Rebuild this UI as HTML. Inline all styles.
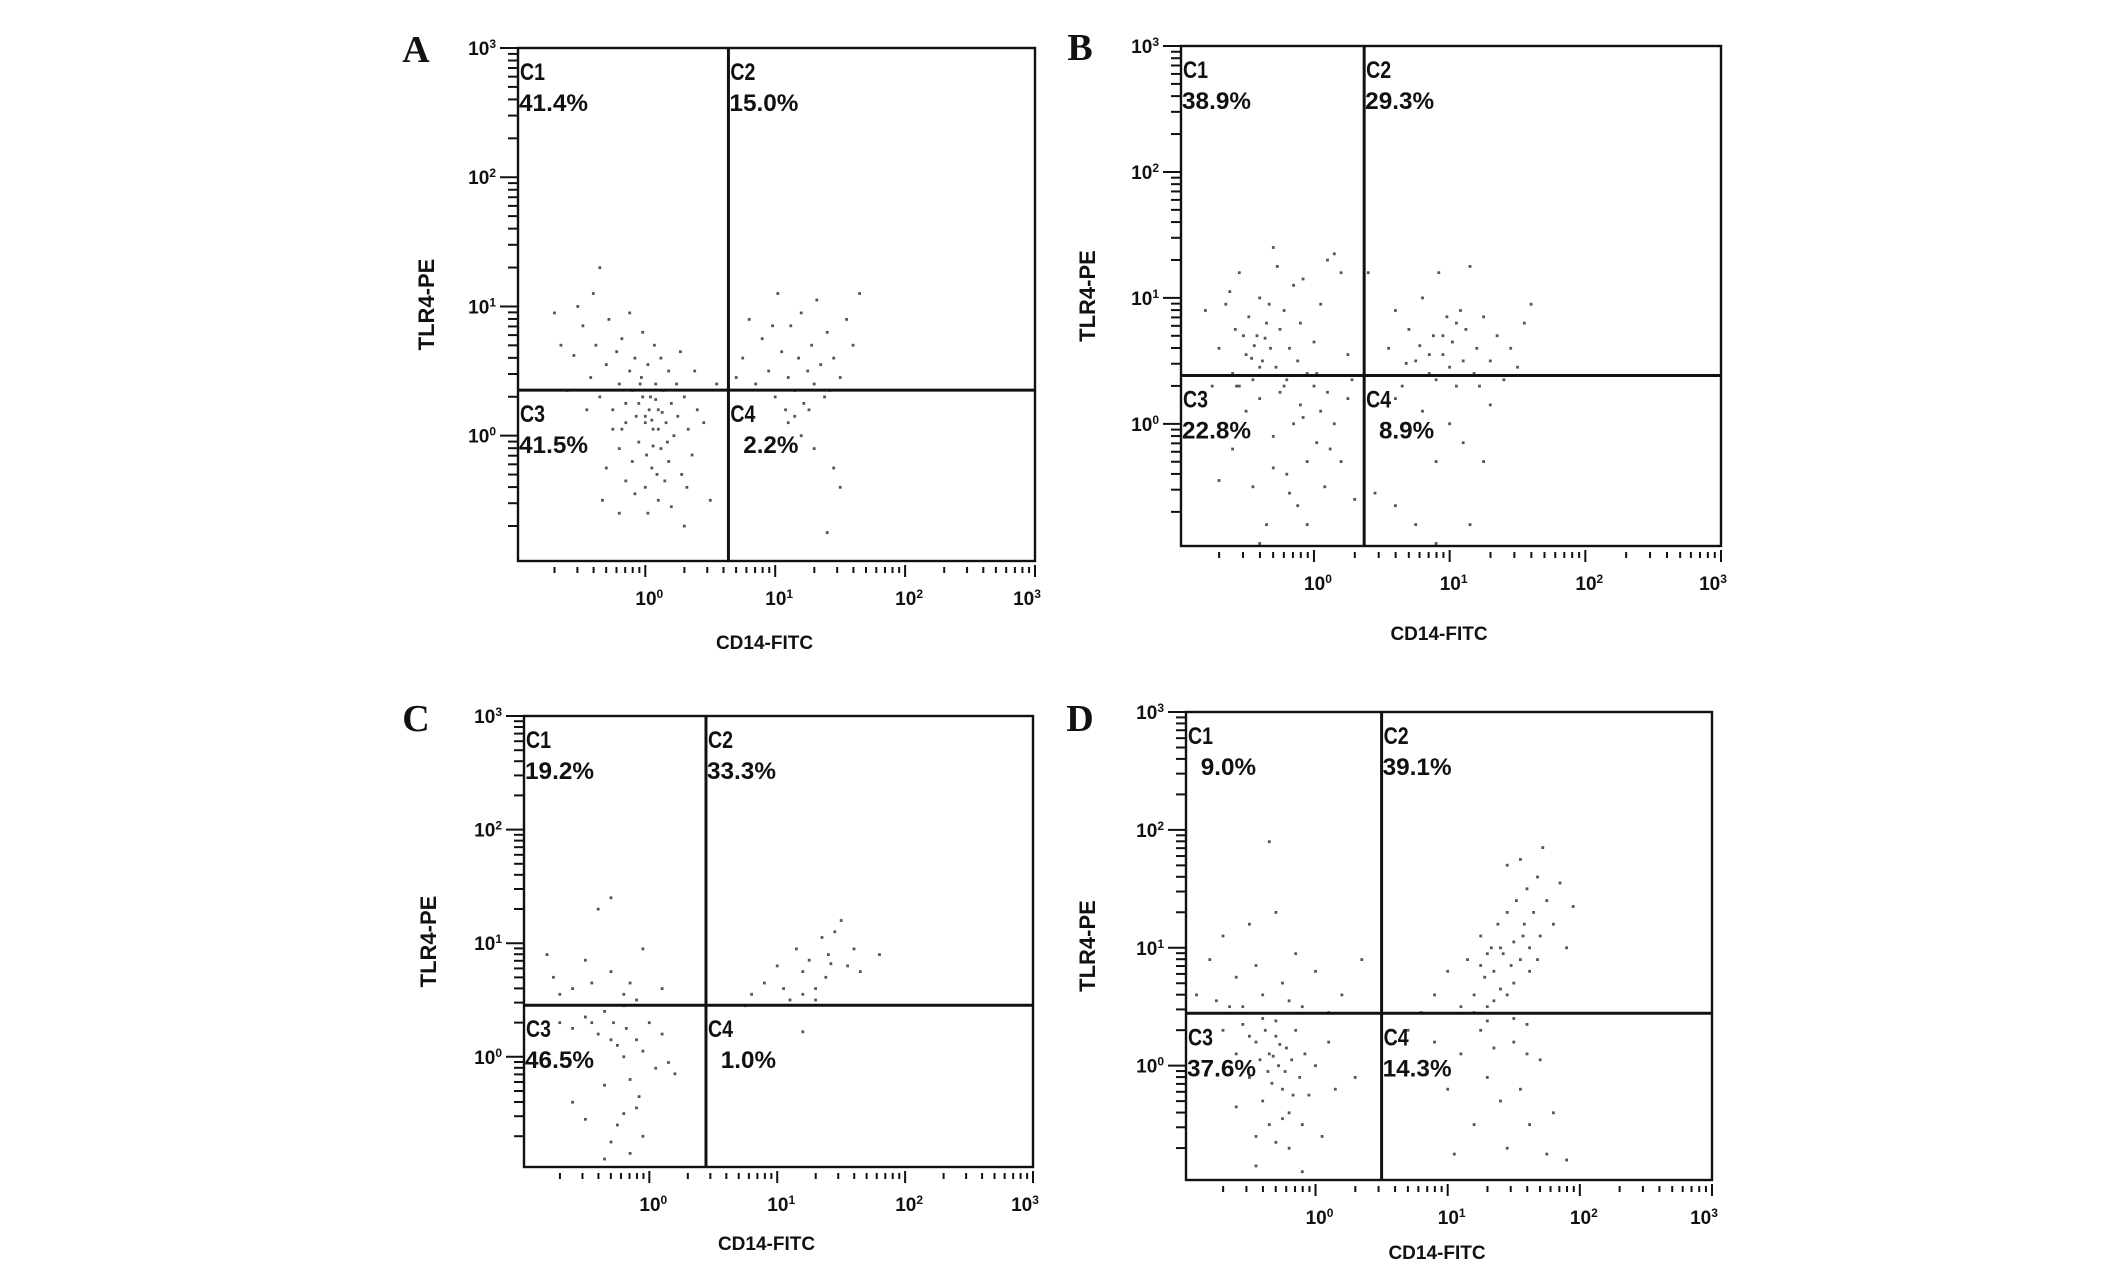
<!DOCTYPE html>
<html><head><meta charset="utf-8"><style>
html,body{margin:0;padding:0;background:#fff;overflow:hidden;}
svg{display:block;}
text{font-family:"Liberation Sans",Arial,sans-serif;font-weight:bold;fill:#111;}
.letter{font-family:"Liberation Serif",serif;font-size:38px;}
</style></head><body>
<svg id="fig" xmlns="http://www.w3.org/2000/svg" width="2126" height="1269" viewBox="0 0 2126 1269"></svg>
<script>
const panelIds = ['A','B','C','D'];
const quadrantPctA = ['41.4%','15.0%','41.5%','2.2%'];
const quadrantPctB = ['38.9%','29.3%','22.8%','8.9%'];
const quadrantPctC = ['19.2%','33.3%','46.5%','1.0%'];
const quadrantPctD = ['9.0%','39.1%','37.6%','14.3%'];
const gateXA = 0.64, gateYA = 0.352;
const gateXB = 0.37, gateYB = 0.384;
const gateXC = 0.443, gateYC = 0.454;
const gateXD = 0.5, gateYD = 0.444;
const decadeTicks = [0,1,2,3];
const xTitle = 'CD14-FITC';
const yTitle = 'TLR4-PE';
const ptsA = [[-0.55,0.62],[-0.48,0.85],[-0.42,0.45],[-0.38,0.7],[-0.35,0.3],[-0.3,0.55],[-0.28,0.9],[-0.25,0.2],[-0.22,0.65],[-0.2,0.4],[-0.18,0.75],[-0.15,0.1],[-0.12,0.5],[-0.1,0.35],[-0.08,0.6],[-0.05,0.25],[-0.03,0.45],[0,0.15],[0.02,0.55],[0.04,0.3],[0.06,0.05],[0.08,0.4],[0.1,0.2],[0.12,-0.1],[0.14,0.35],[0.16,0.1],[0.18,-0.2],[0.2,0.25],[0.22,0.0],[0.25,0.15],[0.28,-0.3],[0.3,0.3],[0.33,0.05],[0.36,-0.15],[0.4,0.2],[-0.05,-0.05],[-0.1,-0.2],[-0.15,-0.35],[0,-0.4],[0.05,-0.25],[0.1,-0.5],[0.02,-0.6],[-0.08,-0.45],[0.15,-0.35],[0.2,-0.55],[-0.2,-0.1],[-0.25,0.05],[-0.3,-0.25],[0.07,0.7],[0.12,0.6],[-0.02,0.8],[0.18,0.5],[-0.45,0.2],[-0.6,0.35],[-0.65,0.7],[-0.7,0.95],[-0.4,1.1],[-0.35,1.3],[-0.52,1.0],[-0.12,0.95],[0.0,0.1],[0.03,0.2],[0.05,0.12],[0.08,0.28],[-0.02,0.3],[0.1,0.05],[0.06,-0.08],[-0.04,0.4],[0.13,0.18],[0.01,-0.15],[0.09,-0.3],[-0.07,0.15],[0.17,-0.05],[0.24,0.4],[0.32,-0.4],[0.45,0.1],[0.5,-0.5],[0.55,0.4],[0.3,-0.7],[-0.2,-0.6],[-0.33,-0.5],[0.38,0.5],[0.27,0.65],[-0.15,0.25],[-0.18,0.05],
[0.75,0.6],[0.8,0.9],[0.85,0.4],[0.9,0.75],[0.95,0.5],[1.0,0.3],[1.05,0.65],[1.1,0.45],[1.12,0.85],[1.15,0.35],[1.18,0.6],[1.2,0.95],[1.22,0.25],[1.25,0.5],[1.28,0.7],[1.3,0.4],[1.32,1.05],[1.35,0.55],[1.38,0.3],[1.4,0.8],[1.45,0.6],[1.5,0.45],[1.55,0.9],[1.6,0.7],[1.65,1.1],[1.08,0.2],[1.15,0.15],[0.98,0.85],[1.26,0.2],[1.42,0.35],[0.7,0.45],[1.02,1.1],
[1.1,0.1],[1.3,-0.1],[1.45,-0.25],[1.4,-0.75],[1.5,-0.4],[1.2,0.0]];
const ptsB = [[-0.7,0.6],[-0.65,0.95],[-0.6,0.4],[-0.58,0.75],[-0.55,1.2],[-0.5,0.55],[-0.48,0.85],[-0.45,0.35],[-0.42,0.7],[-0.4,1.0],[-0.38,0.5],[-0.35,0.8],[-0.32,0.6],[-0.3,1.4],[-0.28,0.45],[-0.25,0.75],[-0.22,0.9],[-0.2,0.35],[-0.18,0.6],[-0.15,1.1],[-0.12,0.5],[-0.1,0.8],[-0.05,0.4],[0,0.65],[0.05,0.95],[0.1,1.3],[0.15,1.35],[0.2,1.2],[0.25,0.55],[0.28,0.35],[-0.62,1.05],[-0.44,0.62],[-0.4,0.45],[-0.36,0.68],[-0.46,0.52],[-0.52,0.7],[-0.33,0.95],[-0.27,1.25],[-0.08,1.15],[0.02,0.4],[-0.75,0.3],[-0.8,0.9],[-0.57,0.3],
[-0.6,-0.2],[-0.5,0.1],[-0.45,-0.5],[-0.4,0.2],[-0.35,-0.8],[-0.3,-0.1],[-0.25,0.25],[-0.2,-0.4],[-0.15,0.0],[-0.12,-0.65],[-0.1,0.15],[-0.05,-0.3],[0,0.3],[0.02,-0.15],[0.05,0.1],[0.08,-0.5],[0.1,0.25],[0.15,0.0],[0.2,-0.3],[0.25,0.2],[-0.7,-0.45],[-0.4,-0.95],[-0.05,-0.8],[0.3,-0.6],[-0.22,0.3],[-0.08,0.05],[-0.3,-0.35],[0.12,-0.2],[-0.55,0.3],[-0.18,-0.55],
[0.55,0.6],[0.6,0.9],[0.65,0.3],[0.7,0.75],[0.75,0.5],[0.8,1.0],[0.85,0.4],[0.88,0.7],[0.9,0.35],[0.92,1.2],[0.95,0.55],[0.98,0.85],[1.0,0.45],[1.02,0.65],[1.05,0.3],[1.08,0.9],[1.1,0.5],[1.12,0.75],[1.15,1.25],[1.18,0.4],[1.2,0.6],[1.25,0.85],[1.3,0.5],[1.35,0.7],[1.4,0.35],[1.45,0.6],[1.5,0.45],[1.55,0.8],[1.6,0.95],[0.4,1.2],[0.85,0.55],[0.95,0.7],[1.05,0.8],[0.78,0.62],[1.22,0.3],[0.68,0.48],
[0.6,0.2],[0.8,0.1],[0.9,-0.3],[1.0,0.0],[1.1,-0.15],[1.15,-0.8],[1.25,-0.3],[0.75,-0.8],[0.6,-0.65],[0.9,-0.95],[1.3,0.15],[0.45,-0.55]];
const ptsC = [[-0.8,0.9],[-0.75,0.7],[-0.7,0.55],[-0.6,0.6],[-0.5,0.85],[-0.45,0.65],[-0.4,1.3],[-0.3,1.4],[-0.3,0.75],[-0.2,0.55],[-0.2,0.45],[-0.15,0.65],[-0.1,0.5],[-0.05,0.95],[0.1,0.6],
[-0.7,0.3],[-0.6,0.25],[-0.5,0.35],[-0.45,0.3],[-0.4,0.2],[-0.35,0.4],[-0.3,0.15],[-0.28,0.3],[-0.25,0.1],[-0.2,0.0],[-0.18,0.25],[-0.15,-0.2],[-0.1,0.15],[-0.05,0.05],[0,0.3],[0.05,-0.1],[0.1,0.2],[-0.35,-0.25],[-0.3,-0.75],[-0.25,-0.6],[-0.2,-0.5],[-0.15,-0.85],[-0.08,-0.35],[-0.05,-0.7],[0.15,-0.05],[0.2,-0.15],[-0.6,-0.4],[-0.5,-0.55],[-0.35,-0.9],[-0.1,-0.45],
[0.75,0.45],[0.8,0.55],[0.9,0.65],[1.0,0.8],[1.05,0.6],[1.1,0.5],[1.15,0.95],[1.2,0.75],[1.25,0.85],[1.3,0.6],[1.35,1.05],[1.38,0.7],[1.4,0.9],[1.45,1.1],[1.5,1.2],[1.55,0.8],[1.6,0.95],[1.65,0.75],[1.8,0.9],[1.3,0.5],[1.2,0.55],[1.42,0.82],
[1.2,0.22]];
const ptsD = [[-0.9,0.6],[-0.8,0.9],[-0.7,1.1],[-0.65,0.5],[-0.6,0.75],[-0.5,1.2],[-0.45,0.85],[-0.4,0.6],[-0.35,1.9],[-0.3,1.3],[-0.25,0.7],[-0.2,0.55],[-0.15,0.95],[-0.1,0.5],[0,0.8],[0.1,0.45],[0.2,0.6],[0.35,0.9],[-0.55,0.5],[-0.75,0.55],
[-0.7,0.3],[-0.6,0.1],[-0.55,0.35],[-0.5,-0.1],[-0.45,0.2],[-0.42,0.05],[-0.4,-0.3],[-0.38,0.3],[-0.35,0.1],[-0.33,-0.15],[-0.3,0.25],[-0.28,0.0],[-0.25,-0.2],[-0.22,0.15],[-0.2,-0.4],[-0.18,0.05],[-0.15,0.3],[-0.12,-0.1],[-0.1,-0.5],[-0.08,0.1],[-0.05,-0.25],[0,0.0],[0.05,-0.6],[0.1,0.2],[0.15,-0.2],[-0.35,-0.5],[-0.3,-0.65],[-0.25,-0.45],[-0.2,-0.7],[-0.4,0.4],[-0.3,0.38],[-0.45,-0.6],[-0.27,0.18],[-0.32,0.08],[-0.23,-0.05],[-0.36,-0.05],[-0.17,-0.25],[-0.5,0.25],[-0.6,-0.35],[0.3,-0.1],[-0.45,-0.85],[-0.1,-0.9],
[0.8,0.45],[0.9,0.6],[1.0,0.8],[1.1,0.5],[1.15,0.9],[1.2,0.6],[1.25,1.1],[1.28,0.75],[1.3,0.5],[1.33,1.0],[1.35,0.8],[1.38,1.2],[1.4,0.65],[1.42,0.95],[1.45,1.3],[1.48,0.85],[1.5,1.05],[1.52,1.4],[1.55,0.9],[1.58,1.2],[1.6,1.5],[1.62,1.0],[1.65,1.3],[1.68,1.6],[1.7,1.1],[1.72,1.85],[1.75,1.4],[1.8,1.2],[1.85,1.55],[1.9,1.0],[1.95,1.35],[1.45,1.7],[1.55,1.75],[1.35,0.55],[1.5,0.7],[1.62,0.8],[1.25,0.85],[1.4,1.0],[1.57,1.1],[1.3,0.95],[1.45,0.6],[1.2,0.45],[1.68,0.9],
[0.7,0.3],[0.9,0.2],[1.0,-0.2],[1.1,0.1],[1.2,-0.5],[1.25,0.3],[1.3,-0.1],[1.35,0.15],[1.4,-0.3],[1.45,-0.7],[1.5,0.2],[1.55,-0.2],[1.6,0.35],[1.62,-0.5],[1.7,0.05],[1.75,-0.75],[1.8,-0.4],[1.9,-0.8],[1.05,-0.75],[1.3,0.38],[1.5,0.4],[1.6,0.1]];

const dataMap = {
  A:{pts:ptsA,pct:quadrantPctA,gx:gateXA,gy:gateYA},
  B:{pts:ptsB,pct:quadrantPctB,gx:gateXB,gy:gateYB},
  C:{pts:ptsC,pct:quadrantPctC,gx:gateXC,gy:gateYC},
  D:{pts:ptsD,pct:quadrantPctD,gx:gateXD,gy:gateYD}
};
// layout (pixels)
const layout = {
  A:{l:518,r:1035,t:48,b:561,lx:416,ly:62,xt:642,yt:427},
  B:{l:1181,r:1721,t:46,b:546,lx:1080,ly:60,xt:633,yt:1088},
  C:{l:524,r:1033,t:716,b:1167,lx:416,ly:731,xt:1243,yt:429},
  D:{l:1186,r:1712,t:712,b:1180,lx:1080,ly:731,xt:1252,yt:1088}
};
const XMIN=-0.98, XMAX=3, YMIN=-0.97, YMAX=3;
const NS='http://www.w3.org/2000/svg';
const svg=document.getElementById('fig');
function mk(tag,attrs,parent){const e=document.createElementNS(NS,tag);for(const k in attrs)e.setAttribute(k,attrs[k]);(parent||svg).appendChild(e);return e;}

panelIds.forEach(id=>{
  const L=layout[id], D=dataMap[id];
  const sx=v=>L.l+(v-XMIN)/(XMAX-XMIN)*(L.r-L.l);
  const sy=v=>L.b-(v-YMIN)/(YMAX-YMIN)*(L.b-L.t);
  const g=mk('g',{});
  
  
  const let_=mk('text',{x:L.lx,y:L.ly,'text-anchor':'middle',class:'letter'},g);
  let_.textContent=id;
  
  
  const dg=mk('g',{fill:'#555'},g);
  
  
  D.pts.forEach(p=>{
    const c=mk('rect',{x:(sx(p[0])-1.4).toFixed(1),y:(sy(p[1])-1.4).toFixed(1),width:2.8,height:2.8},dg);
    
    
  });
  const box=mk('rect',{x:L.l,y:L.t,width:L.r-L.l,height:L.b-L.t,fill:'none',stroke:'#111','stroke-width':2.4},g);
  
  
  const gv=mk('line',{x1:sx(D.gx),x2:sx(D.gx),y1:L.t,y2:L.b,stroke:'#111','stroke-width':3},g);
  
  
  const gh=mk('line',{x1:L.l,x2:L.r,y1:sy(D.gy),y2:sy(D.gy),stroke:'#111','stroke-width':3},g);
  
  
  for(let d=-1;d<3;d++){for(let m=1;m<=9;m++){const v=d+Math.log10(m);if(v<YMIN||v>YMAX)continue;const y=sy(v);
    const t=mk('line',{x1:L.l-(m===1?18:10),x2:L.l,y1:y,y2:y,stroke:'#111','stroke-width':2},g);
    }}
  const yt3=mk('line',{x1:L.l-18,x2:L.l,y1:sy(3),y2:sy(3),stroke:'#111','stroke-width':2},g);
  
  for(let d=-1;d<3;d++){for(let m=1;m<=9;m++){const v=d+Math.log10(m);if(v<XMIN+0.2||v>XMAX)continue;const x=sx(v);
    const t=mk('line',{x1:x,x2:x,y1:L.b+(m===1?4:6),y2:L.b+(m===1?16:12),stroke:'#111','stroke-width':2},g);
    }}
  const xt3=mk('line',{x1:sx(3),x2:sx(3),y1:L.b+4,y2:L.b+16,stroke:'#111','stroke-width':2},g);
  
  decadeTicks.forEach(d=>{
    const ty=mk('text',{x:L.l-22,y:sy(d)+7,'text-anchor':'end','font-size':19},g);
    ty.innerHTML='10<tspan dy="-7" font-size="12">'+d+'</tspan>';
    
    const tx=mk('text',{x:sx(d)+(d===3?-8:4),y:L.b+44,'text-anchor':'middle','font-size':19},g);
    tx.innerHTML='10<tspan dy="-7" font-size="12">'+d+'</tspan>';
    
  });
  const xtl=mk('text',{x:(L.l+L.r)/2-12,y:L.xt+7,'text-anchor':'middle','font-size':19},g);
  xtl.textContent=xTitle;
  
  const cy=(L.t+L.b)/2;
  const ytl=mk('text',{x:L.yt+7,y:cy,'text-anchor':'middle','font-size':22,transform:'rotate(-90 '+(L.yt+7)+' '+cy+')'},g);
  ytl.textContent=yTitle;
  
  const qx=[L.l,sx(D.gx)], qy=[L.t,sy(D.gy)];
  [0,1,2,3].forEach(q=>{
    const x0=qx[q%2]+2, y0=qy[Math.floor(q/2)];
    const c=mk('text',{x:x0,y:y0+32,'font-size':24,textLength:25,lengthAdjust:'spacingAndGlyphs'},g);
    c.textContent='C'+(q+1);
    
    const s=D.pct[q];
    const p=mk('text',{x:x0+68,y:y0+63,'text-anchor':'end','font-size':24,textLength:(s.length*13.8).toFixed(1),lengthAdjust:'spacingAndGlyphs'},g);
    p.textContent=s;
    
  });
});
</script>
</body></html>
